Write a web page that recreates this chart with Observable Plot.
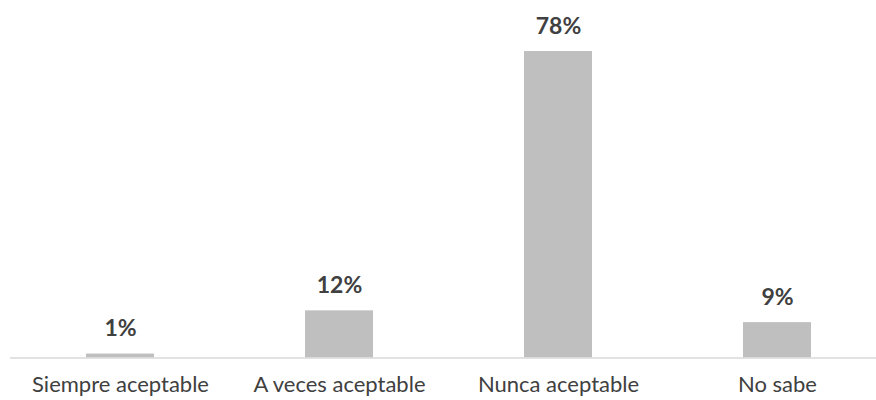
<!DOCTYPE html>
<html>
<head>
<meta charset="utf-8">
<script src="https://cdn.jsdelivr.net/npm/d3@7"></script>
<script src="https://cdn.jsdelivr.net/npm/@observablehq/plot@0.6"></script>
<style>
  html, body { margin: 0; padding: 0; background: #fff; }
  #chart svg { display: block; }
</style>
</head>
<body>
<div id="chart"></div>
<script>
const categories = ["Siempre aceptable", "A veces aceptable", "Nunca aceptable", "No sabe"];
const values = [1, 12, 78, 9];
const labels = ["1%", "12%", "78%", "9%"];

const data = categories.map((c, i) => ({category: c, value: values[i], label: labels[i]}));

const chart = Plot.plot({
  width: 876,
  height: 400,
  marginLeft: 10,
  marginRight: 0,
  marginTop: 0,
  marginBottom: 42.5,
  style: {fontFamily: "Lato, 'Open Sans', sans-serif", background: "#fff"},
  x: {domain: categories, range: [10.5, 886.5], paddingInner: 0.69, paddingOuter: 0.345, label: null},
  y: {domain: [0, 78], range: [357.5, 51], axis: null},
  marks: [
    Plot.barY(data, {x: "category", y: "value", fill: "#bfbfbf"}),
    Plot.ruleY([0], {stroke: "#d9d9d9", strokeWidth: 1.5}),
    Plot.text(data, {x: "category", y: "value", text: "label", dy: -25, fontSize: 23, fontWeight: "bold", fill: "#404040"}),
    Plot.axisX({tickSize: 0, tickPadding: 18, fontSize: 22, color: "#404040", label: null})
  ]
});
document.getElementById("chart").appendChild(chart);
</script>
</body>
</html>
